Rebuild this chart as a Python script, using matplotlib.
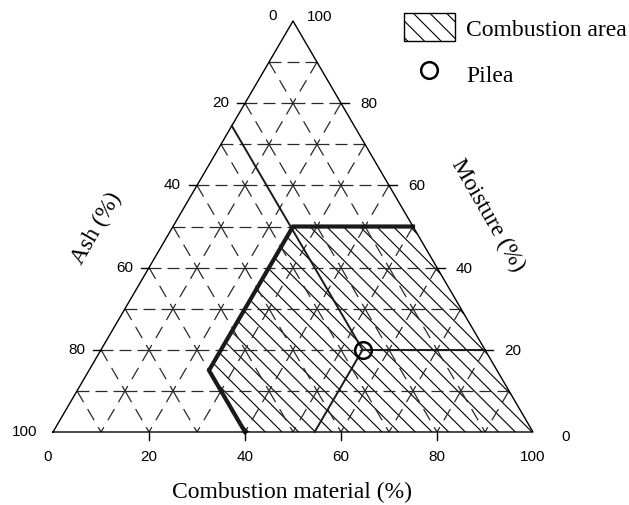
import matplotlib
matplotlib.use("Agg")
import matplotlib.pyplot as plt
from matplotlib.patches import Polygon, Patch
from matplotlib.lines import Line2D

plt.rcParams['lines.scale_dashes'] = False
plt.rcParams['hatch.linewidth'] = 0.8

# tick values on each side (%)
ticks = [0, 20, 40, 60, 80, 100]
grid_levels = [10, 20, 30, 40, 50, 60, 70, 80, 90]

# combustion area limits (Tanner triangle)
moist_max = 50
ash_max = 60
comb_min = 25

# Pilea sample (%)
pilea_moist = 20
pilea_ash = 25.5
pilea_comb = 54.5

serif = 'Liberation Serif'
sans = 'Liberation Sans'

# pixel scale of the triangle (px per % along x, along height)
SX, SY = 4.8, 4.11


def tern(c, m):
    # combustible along the bottom, moisture up
    return c + m / 2.0, m


def dashed_seg(ax, p0, p1, horiz):
    # dash pattern given in pixels, converted to points
    if horiz:
        pat = (12, 6)
    else:
        pat = (13, 8)
    ax.plot([p0[0], p1[0]], [p0[1], p1[1]], color='#2a2a2a', lw=0.9,
            linestyle=(0, tuple(v * 0.72 for v in pat)),
            solid_capstyle='butt', dash_capstyle='butt')


fig = plt.figure(figsize=(6.29, 5.06), dpi=100)
ax = fig.add_axes([0, 0, 1, 1])
ax.set_xlim(-53 / SX, 576 / SX)
ax.set_ylim((433 - 506) / SY, 433 / SY)
ax.axis('off')

# dashed grid, one segment between lattice points at a time
for v in grid_levels:
    # constant moisture
    cs = list(range(0, 100 - v + 1, 10))
    if cs[-1] != 100 - v:
        cs.append(100 - v)
    for c0, c1 in zip(cs[:-1], cs[1:]):
        dashed_seg(ax, tern(c0, v), tern(c1, v), True)
    # slanted lines, drawn from the upper lattice point down
    ms = list(range(0, 100 - v + 1, 10))
    for m0, m1 in zip(ms[:-1], ms[1:]):
        dashed_seg(ax, tern(v, m1), tern(v, m0), False)
        dashed_seg(ax, tern(100 - v - m1, m1), tern(100 - v - m0, m0), False)

# combustion area
area = [tern(100 - ash_max, 0),
        tern(comb_min, 100 - ash_max - comb_min),
        tern(comb_min, moist_max),
        tern(100 - moist_max, moist_max),
        tern(100, 0)]
ax.add_patch(Polygon(area, closed=True, facecolor='none', edgecolor='black',
                     lw=0, hatch='\\\\'))
ax.plot([p[0] for p in area[:4]], [p[1] for p in area[:4]], color='#1a1a1a',
        lw=3.0, solid_joinstyle='miter')

# triangle frame
frame = [tern(0, 0), tern(100, 0), tern(0, 100), tern(0, 0)]
ax.plot([p[0] for p in frame], [p[1] for p in frame], color='black', lw=1.0)

# tick stubs and labels
for t in ticks:
    # bottom: combustible
    if 0 < t < 100:
        ax.plot([t, t], [0, -8 / SY], color='black', lw=1.0)
    dx = -5 if t == 0 else 0
    ax.text(t + dx / SX, -24 / SY, str(t), ha='center', va='center',
            family=sans, fontsize=11)
    # left: ash
    x, y = tern(0, 100 - t)
    if 0 < t < 100:
        ax.plot([x, x - 8 / SX], [y, y], color='black', lw=1.0)
    dy = 6 if t == 0 else 1
    ax.text(x - 16 / SX, y + dy / SY, str(t), ha='right', va='center',
            family=sans, fontsize=11)
    # right: moisture
    x, y = tern(100 - t, t)
    if 0 < t < 100:
        ax.plot([x, x + 8 / SX], [y, y], color='black', lw=1.0)
    if t == 100:
        ox, oy = 14, 5
    elif t == 0:
        ox, oy = 28, -4
    else:
        ox, oy = 19, 0
    ax.text(x + ox / SX, y + oy / SY, str(t), ha='left', va='center',
            family=sans, fontsize=11)

# Pilea read-out lines
px, py = tern(pilea_comb, pilea_moist)
for q in [tern(0, 100 - pilea_ash), tern(100 - pilea_moist, pilea_moist),
          tern(pilea_comb, 0)]:
    ax.plot([px, q[0]], [py, q[1]], color='#1a1a1a', lw=1.4)
ax.plot(px, py, marker='o', markersize=12, markerfacecolor='none',
        markeredgecolor='black', markeredgewidth=1.8, linestyle='none')

# axis titles
ax.text((292 - 53) / SX, (433 - 492) / SY, 'Combustion material (%)',
        ha='center', va='center', family=serif, fontsize=17)
ax.text((97 - 53) / SX, (433 - 228) / SY, 'Ash (%)', rotation=60,
        ha='center', va='center', family=serif, fontsize=17,
        rotation_mode='anchor')
ax.text((488 - 53) / SX, (433 - 215) / SY, 'Moisture (%)', rotation=-60,
        ha='center', va='center', family=serif, fontsize=17,
        rotation_mode='anchor')

handles = [Patch(facecolor='white', edgecolor='black', hatch='\\\\', lw=1.0),
           Line2D([], [], marker='o', markersize=12, markerfacecolor='none',
                  markeredgecolor='black', markeredgewidth=1.8,
                  linestyle='none')]
ax.legend(handles, ['Combustion area', 'Pilea'], loc='upper right',
          bbox_to_anchor=(1.0, 1.0 - 12 / 506), bbox_transform=fig.transFigure,
          frameon=False, prop={'family': serif, 'size': 17},
          handlelength=2.15, handleheight=1.45, handletextpad=0.47,
          labelspacing=0.75, borderaxespad=0.0, borderpad=0.1)

fig.savefig('out.png', dpi=100)
